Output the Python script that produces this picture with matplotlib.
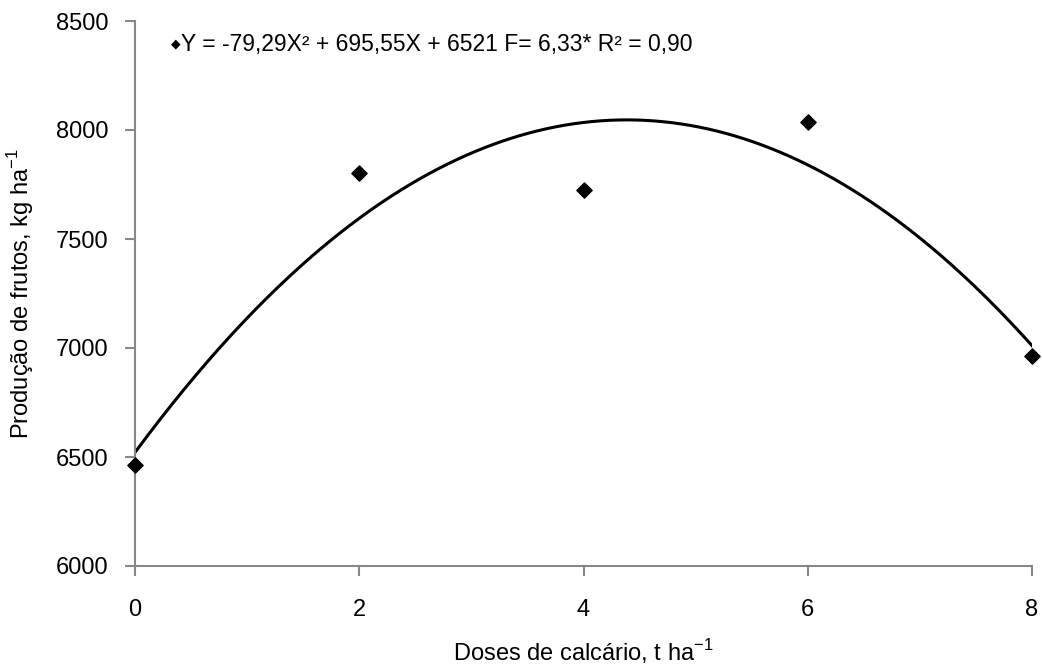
import numpy as np
import matplotlib
matplotlib.use("Agg")
import matplotlib.pyplot as plt

plt.rcParams['font.family'] = ['Liberation Sans', 'DejaVu Sans']
plt.rcParams['mathtext.fontset'] = 'custom'
plt.rcParams['mathtext.rm'] = 'Liberation Sans'

doses = [0, 2, 4, 6, 8]
producao = [6463, 7801, 7725, 8038, 6963]
coef = [-79.29, 695.55, 6521]
xticks = [0, 2, 4, 6, 8]
yticks = [6000, 6500, 7000, 7500, 8000, 8500]
equation = "Y = -79,29X² + 695,55X + 6521 F= 6,33* R² = 0,90"

fig = plt.figure(figsize=(10.42, 6.68), dpi=100)
ax = fig.add_axes([135/1042, 1-566/668, (1032-135)/1042, (566-21)/668])

xs = np.linspace(0, 8, 300)
ax.plot(xs, np.polyval(coef, xs), color='black', lw=2.2, zorder=2)
ax.scatter(doses, producao, marker='D', s=60, color='black', zorder=3, clip_on=False)

ax.set_xlim(0, 8)
ax.set_ylim(6000, 8500)
ax.set_xticks(xticks)
ax.set_yticks(yticks)
ax.tick_params(axis='both', colors='#888888', labelcolor='black', labelsize=17,
               direction='out', length=7, width=1.5)
ax.tick_params(axis='x', pad=17)
ax.tick_params(axis='y', pad=12)
for s in ['top', 'right']:
    ax.spines[s].set_visible(False)
for s in ['left', 'bottom']:
    ax.spines[s].set_color('#888888')
    ax.spines[s].set_linewidth(1.5)

ax.set_xlabel("Doses de calcário, t ha$^{-1}$", fontsize=17)
ax.set_ylabel("Produção de frutos, kg ha$^{-1}$", fontsize=17)
ax.xaxis.set_label_coords(0.5, (566-637)/545)
ax.yaxis.set_label_coords((36-135)/897, 0.5)

fig.text(171/1042, 1-44/668, "◆", fontsize=9, va='center', ha='left', family='DejaVu Sans')
fig.text(181/1042, 1-44/668, equation, fontsize=16.5, va='center', ha='left')

fig.savefig("out.png", dpi=100, facecolor='white')
